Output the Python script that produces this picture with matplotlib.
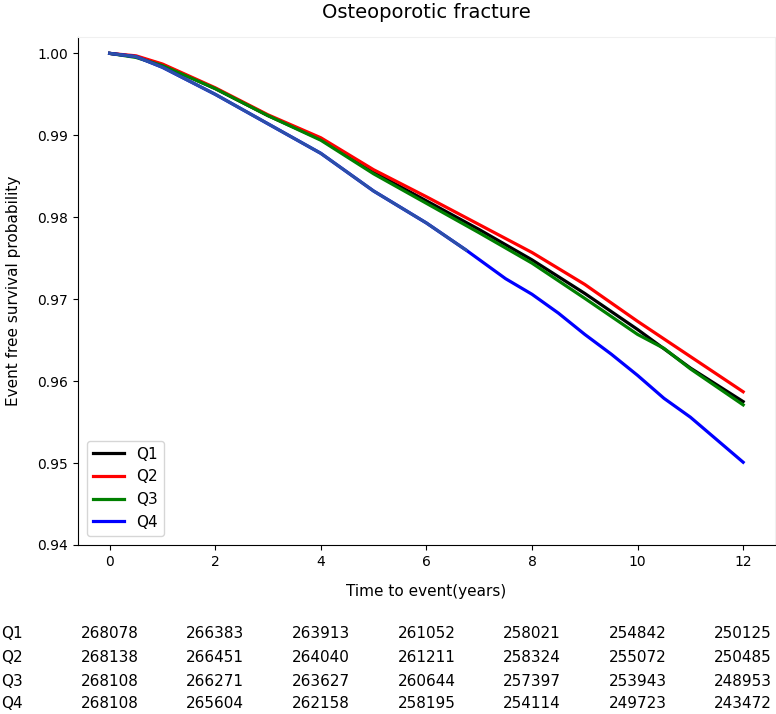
import numpy as np
import matplotlib.pyplot as plt

# survival curves
t_q = [0, 0.5, 1, 2, 3, 4, 5, 6, 7, 8, 9, 10, 11, 12]
q1 = [1.0, 0.9996, 0.9986, 0.9957, 0.9924, 0.9895, 0.9855, 0.9820, 0.9785, 0.9748, 0.9707, 0.9663, 0.9616, 0.9575]
q2 = [1.0, 0.9997, 0.9987, 0.9958, 0.9925, 0.9897, 0.9858, 0.9825, 0.9791, 0.9757, 0.9718, 0.9673, 0.9630, 0.9587]
t_q3 = [0, 0.5, 1, 2, 3, 4, 5, 6, 7, 8, 9, 10, 10.5, 11, 12]
q3 = [1.0, 0.9995, 0.9985, 0.9957, 0.9924, 0.9894, 0.9853, 0.9817, 0.9781, 0.9744, 0.9701, 0.9657, 0.9640, 0.9615, 0.9571]
t_q4 = [0, 0.5, 1, 2, 3, 4, 5, 6, 6.75, 7.5, 8, 8.5, 9, 9.5, 10, 10.5, 11, 12]
q4 = [1.0, 0.9996, 0.9983, 0.9950, 0.9914, 0.9878, 0.9832, 0.9793, 0.9760, 0.9725, 0.9706, 0.9683, 0.9657, 0.9633, 0.9607, 0.9579, 0.9556, 0.9501]

groups = ['Q1', 'Q2', 'Q3', 'Q4']
risk_times = [0, 2, 4, 6, 8, 10, 12]
at_risk = {
    'Q1': [268078, 266383, 263913, 261052, 258021, 254842, 250125],
    'Q2': [268138, 266451, 264040, 261211, 258324, 255072, 250485],
    'Q3': [268108, 266271, 263627, 260644, 257397, 253943, 248953],
    'Q4': [268108, 265604, 262158, 258195, 254114, 249723, 243472],
}

fig = plt.figure(figsize=(7.76, 7.14), dpi=100)
ax = fig.add_axes([0.1005, 0.2367, 0.898, 0.7115])

lw = 2.3
ax.plot(t_q, q1, color='black', lw=lw, label='Q1')
ax.plot(t_q, q2, color='red', lw=lw, label='Q2')
ax.plot(t_q3, q3, color='green', lw=lw, label='Q3')
ax.plot(t_q4, q4, color='blue', lw=lw, label='Q4')
# early part of Q4 looks darker in the reference
ax.plot(t_q4[:9], q4[:9], color='#2c4fa8', lw=lw)

ax.set_xlim(-0.6, 12.6)
ax.set_ylim(0.94, 1.002)
ax.set_xticks(np.arange(0, 13, 2))
ax.set_yticks([0.94, 0.95, 0.96, 0.97, 0.98, 0.99, 1.00])
ax.set_yticklabels(['%.2f' % v for v in ax.get_yticks()])
ax.tick_params(labelsize=10)

for s in ['top', 'right']:
    ax.spines[s].set_color('#f0f0f0')

ax.set_title('Osteoporotic fracture', fontsize=14, pad=14)
ax.set_xlabel('Time to event(years)', fontsize=11, labelpad=11)
ax.set_ylabel('Event free survival probability', fontsize=11, labelpad=12)
ax.legend(loc='lower left', fontsize=11, handlelength=2.0, borderaxespad=0.6)

# at-risk table below the axes
row_y = [633, 657, 681, 704]
for g, yp in zip(groups, row_y):
    yf = 1 - yp / 714
    fig.text(0.002, yf, g, fontsize=11, ha='left', va='center')
    for tt, n in zip(risk_times, at_risk[g]):
        xd = ax.transData.transform((tt, 0.95))[0] / fig.bbox.width
        fig.text(xd, yf, str(n), fontsize=11, ha='center', va='center')

fig.savefig('out.png', dpi=100)
